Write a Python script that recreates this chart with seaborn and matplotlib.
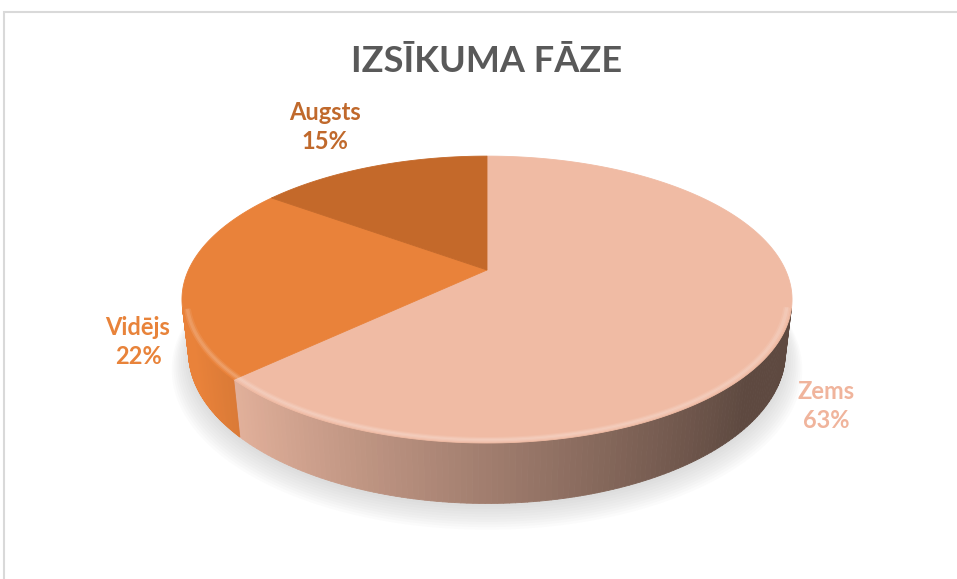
import numpy as np
import matplotlib
matplotlib.use("Agg")
import matplotlib.pyplot as plt
from matplotlib.patches import Polygon, Rectangle
from matplotlib.collections import PolyCollection
import seaborn as sns

# chart data
categories = ["Zems", "Vidējs", "Augsts"]
shares = [63, 22, 15]
title = "IZSĪKUMA FĀZE"

# styling
sns.set_style("white")
plt.rcParams["font.family"] = ["Lato", "DejaVu Sans"]
top_colors = sns.color_palette(["#F0BBA4", "#E9823A", "#C4692A"])
text_colors = ["#F0B49C", "#E8833A", "#C0692C"]
label_xy = [(826, 406), (138, 342), (325, 127)]  # pixel positions of the data labels

# 3d view of the pie (pixel space)
CX, CY = 487, 270
S = 298.5
ALPHA = np.radians(27.4)
D = 4.31
H = 0.2
sa, ca = np.sin(ALPHA), np.cos(ALPHA)


def project(phi, z=0.0, r=1.0):
    x = r * np.cos(phi)
    y = r * np.sin(phi)
    depth = D + y * ca - z * sa
    u = x * D / depth
    v = (y * sa + z * ca) * D / depth
    return CX + S * u, CY - S * v


def visible(phi):
    return -D * ca * np.sin(phi) - 1 > 0


fig = plt.figure(figsize=(9.57, 5.79), dpi=100)
ax = fig.add_axes([0, 0, 1, 1])
ax.set_xlim(0, 957)
ax.set_ylim(579, 0)
ax.axis("off")

# soft shadow under the pie
ring = np.linspace(0, 2 * np.pi, 300)
for k in range(10):
    sx, sy = project(ring, z=-H, r=1.0 + 0.006 * k)
    ax.add_patch(Polygon(np.column_stack([sx, sy + 3 + 1.2 * k]), closed=True,
                         facecolor="#9a9a9a", edgecolor="none", alpha=0.035, zorder=1))

# slice angles: start at 12 o'clock, clockwise
total = float(sum(shares))
bounds = np.radians(90 - 360 * np.concatenate([[0], np.cumsum(shares)]) / total)

# side walls
for i, col in enumerate(top_colors):
    phis = np.linspace(bounds[i], bounds[i + 1], 240)
    quads, fcs = [], []
    for a, b in zip(phis[:-1], phis[1:]):
        m = 0.5 * (a + b)
        if not visible(m):
            continue
        x1, y1 = project(a)
        x2, y2 = project(b)
        x3, y3 = project(b, z=-H)
        x4, y4 = project(a, z=-H)
        quads.append([(x1, y1), (x2, y2), (x3, y3), (x4, y4)])
        f = np.clip(0.67 - 0.37 * np.cos(m), 0.39, 1.0)
        fcs.append(tuple(np.clip(np.array(col) * f, 0, 1)))
    if quads:
        ax.add_collection(PolyCollection(quads, facecolors=fcs, edgecolors=fcs,
                                         linewidths=0.6, zorder=2))

# top faces
for i, col in enumerate(top_colors):
    phis = np.linspace(bounds[i], bounds[i + 1], 200)
    ex, ey = project(phis)
    pts = np.vstack([[CX, CY], np.column_stack([ex, ey])])
    ax.add_patch(Polygon(pts, closed=True, facecolor=col, edgecolor=col,
                         linewidth=0.6, zorder=3))

# soft bevel highlight along the front rim
front = ring[visible(ring)]
front = np.sort(np.where(front > np.pi, front - 2 * np.pi, front))
for rr, a_ in [(0.99, 0.10), (0.985, 0.12), (0.98, 0.08)]:
    hx, hy = project(front, r=rr)
    ax.plot(hx, hy, color="white", alpha=a_, lw=2.5, zorder=4, solid_capstyle="round")

# data labels
for name, val, (lx, ly), tc in zip(categories, shares, label_xy, text_colors):
    ax.text(lx, ly, f"{name}\n{val}%", ha="center", va="center", fontsize=17,
            fontweight="bold", color=tc, linespacing=1.3, zorder=5)

fig.text(487 / 957, 1 - 62 / 579, title, ha="center", va="center", fontsize=26,
         fontweight="bold", color="#595959")

# chart frame (cropped at right and bottom)
fig.add_artist(Rectangle((4 / 957, -0.1), 2.0, 1.1 - 12 / 579, transform=fig.transFigure,
                         fill=False, edgecolor="#D9D9D9", linewidth=1.5))

fig.savefig("out.png", dpi=100)
